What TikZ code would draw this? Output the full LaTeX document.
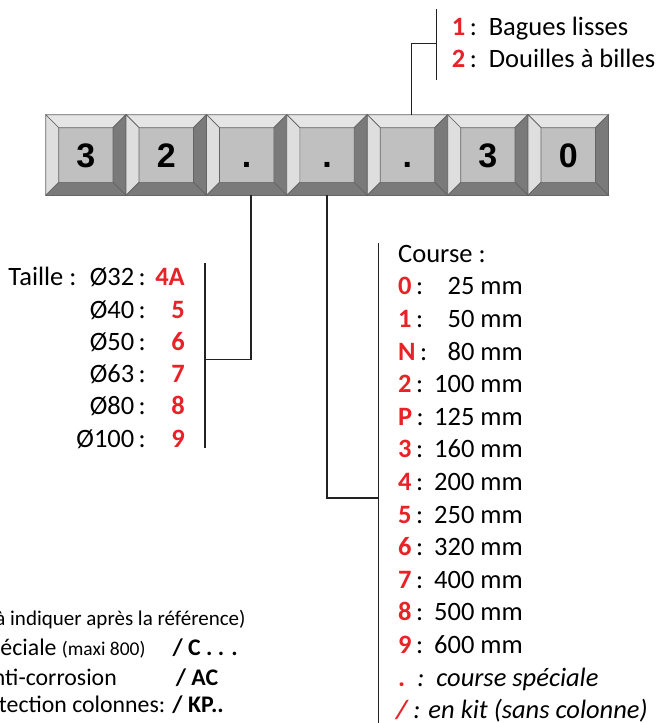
\documentclass[tikz,border=0pt]{standalone}
\usepackage{fontspec}
\setmainfont{Carlito}
\newfontfamily\keyfont{Liberation Sans}
\usetikzlibrary{positioning,calc}

\definecolor{codered}{RGB}{232,34,39}
\definecolor{keyface}{RGB}{192,192,193}
\definecolor{keyedge}{RGB}{100,100,100}
\definecolor{bevlight}{RGB}{229,229,229}
\definecolor{bevside}{RGB}{222,222,222}
\definecolor{bevdark}{RGB}{122,122,123}
\definecolor{linecol}{RGB}{34,34,34}

\newcommand{\code}[1]{\textcolor{codered}{\textbf{#1}}}

\begin{document}
\begin{tikzpicture}[x=1pt, y=-1pt,
    key/.style = {shape=rectangle, draw=keyedge, fill=keyface, line width=0.7pt,
    minimum width=79.7pt, minimum height=80pt, inner sep=0pt,
    text height=24.3pt, text depth=0pt,
    font=\keyfont\bfseries\fontsize{34}{34}\selectfont},
    bevel/.style = {draw=keyedge, line width=0.7pt},
    txt/.style = {anchor=base west, inner sep=0pt, font=\fontsize{26.5}{32}\selectfont},
    rtxt/.style = {txt, anchor=base east},
    opt/.style = {rtxt, font=\fontsize{23.8}{30}\selectfont},
    small/.style = {font=\fontsize{21}{26}\selectfont},
    line/.style = {draw=linecol, line width=1.5pt}]

  \clip (0,0) rectangle (659,723);

  % reference keys
  \node[key] (k1) at (85.85,155) {3};
  \node[key, right=0pt of k1] (k2) {2};
  \node[key, right=0pt of k2] (k3) {.};
  \node[key, right=0pt of k3] (k4) {.};
  \node[key, right=0pt of k4] (k5) {.};
  \node[key, right=0pt of k5] (k6) {3};
  \node[key, right=0pt of k6] (k7) {0};

  \foreach \k in {k1,k2,k3,k4,k5,k6,k7} {
    \filldraw[bevel, fill=bevlight] (\k.north west) -- (\k.north east)
      -- ([shift={(-13,13)}]\k.north east) -- ([shift={(13,13)}]\k.north west) -- cycle;
    \filldraw[bevel, fill=bevside] (\k.north west) -- ([shift={(13,13)}]\k.north west)
      -- ([shift={(13,-13)}]\k.south west) -- (\k.south west) -- cycle;
    \filldraw[bevel, fill=bevdark] (\k.north east) -- (\k.south east)
      -- ([shift={(-13,-13)}]\k.south east) -- ([shift={(-13,13)}]\k.north east) -- cycle;
    \filldraw[bevel, fill=bevdark] (\k.south west) -- (\k.south east)
      -- ([shift={(-13,-13)}]\k.south east) -- ([shift={(13,-13)}]\k.south west) -- cycle;
  }

  % guidage
  \coordinate (guiT) at (436.7,9);
  \coordinate (guiB) at (436.7,80);
  \coordinate (guiM) at (436.7,43.3);
  \draw[line] (guiT) -- (guiB);
  \draw[line] ([xshift=4pt]k5.north) |- (guiM);
  \node[txt] (gui1) at (451.7,35) {\code{1}\,:\ \ Bagues lisses};
  \node[txt] (gui2) at (451.7,67) {\code{2}\,:\ \ Douilles à billes};

  % taille
  \coordinate (tailT) at (205,263.3);
  \coordinate (tailB) at (205,448.3);
  \coordinate (tailM) at (205,359.3);
  \draw[line] (tailT) -- (tailB);
  \draw[line] ([xshift=4.5pt]k3.south) |- (tailM);
  \node[txt] (taille) at (8.3,285.7) {Taille :};
  \foreach \d/\c [count=\i from 0] in {32/4A, 40/5, 50/6, 63/7, 80/8, 100/9} {
    \node[rtxt] (dia\i) at (146,285.7+32.3*\i) {Ø\d\,:};
    \node[rtxt] (tc\i) at (185,285.7+32.3*\i) {\code{\c}};
  }

  % course
  \coordinate (crsT) at (378.7,243.3);
  \coordinate (crsB) at (378.7,730);
  \coordinate (crsM) at (378.7,498);
  \draw[line] (crsT) -- (crsB);
  \draw[line] (k4.south) |- (crsM);
  \node[txt] (course) at (398,262.3) {Course :};
  \foreach \c/\v [count=\i from 1] in {0/25, 1/50, N/80, 2/100, P/125, 3/160,
      4/200, 5/250, 6/320, 7/400, 8/500, 9/600} {
    \node[txt] (cc\i) at (398,262.3+32.6*\i) {\code{\c}\,:};
    \node[rtxt] (cv\i) at (523,262.3+32.6*\i) {\v\ mm};
  }
  \node[txt] (spec) at (398,686.1) {\code{.}\hspace{12pt}\textit{:\ \ course spéciale}};
  \node[txt] (kit) at (396,718.7) {\code{\textit{/}}\,\textit{: en kit (sans colonne)}};

  % options
  \node[rtxt, small] (opt0) at (245.7,625) {(à indiquer après la référence)};
  \node[opt] (opt1) at (145.7,655) {spéciale {\fontsize{19.5}{24}\selectfont (maxi 800)}};
  \node[opt] (opt1c) at (238,655) {\textbf{/ C . . .}};
  \node[opt] (opt2) at (117,685) {anti-corrosion};
  \node[opt] (opt2c) at (218.3,685) {\textbf{/ AC}};
  \node[opt] (opt3) at (224,712) {protection colonnes: \textbf{/ KP..}};
\end{tikzpicture}
\end{document}
